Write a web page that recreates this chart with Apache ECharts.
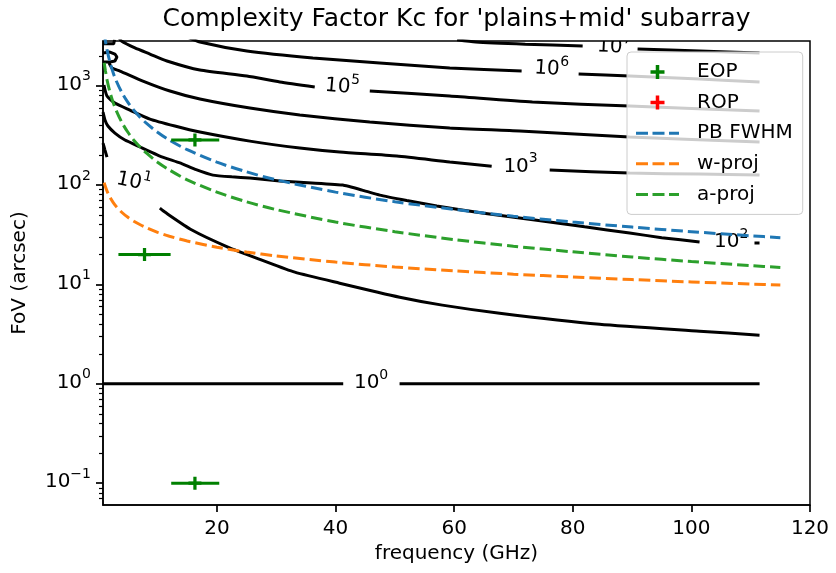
<!DOCTYPE html>
<html><head><meta charset="utf-8">
<script src="https://cdn.jsdelivr.net/npm/echarts@6/dist/echarts.min.js"></script>
<style>html,body{margin:0;padding:0;background:#fff}#c{width:836px;height:573px}</style>
</head><body><div id="c"></div>
<script>
// ---------- data ----------
const xTicks = [20, 40, 60, 80, 100, 120];
const yTicks = [0.1, 1, 10, 100, 1000];
const yMinorTicks = [0.07,0.08,0.09,0.2,0.3,0.4,0.5,0.6,0.7,0.8,0.9,2,3,4,5,6,7,8,9,20,30,40,50,60,70,80,90,200,300,400,500,600,700,800,900,2000];

const freq   = [1,1.2,1.5,2,2.5,3,4,5,6,7,8,10,12,15,20,25,30,40,50,60,70,80,90,100,110,115];
const pbFwhm = [3400,2830,2270,1700,1360,1130,850,680,567,486,425,340,283,227,170,136,113,85,68,57,48.6,42.5,37.8,34,30.9,29.6];
const wProj  = [106,96.8,86.5,75,67,61.2,53,47.4,43.3,40.1,37.5,33.5,30.6,27.4,23.7,21.2,19.4,16.8,15,13.7,12.7,11.9,11.2,10.6,10.1,9.9];
const aProj  = [1700,1420,1130,850,680,567,425,340,283,243,213,170,142,113,85,68,56.7,42.5,34,28.3,24.3,21.3,18.9,17,15.5,14.8];

const eopFreq = [16.3, 7.8, 16.3];
const eopFov  = [285, 20, 0.1];
const eopLo   = [12.3, 3.4, 12.3];
const eopHi   = [20.4, 12.2, 20.4];
const ropFreq = [];
const ropFov  = [];

// contour lines (Kc levels), each a list of segments of [freq, fov]
const k0 = [[[0.8,1],[41.3,1]], [[50.8,1],[111.5,1]]];
const k1 = [[[0.8,265],[1.13,225],[1.47,191]],
            [[10.39,58.6],[11.23,53.5],[15.79,35.3],[21.85,23.8],[27.58,17.6],[33.14,13.3],[40.7,10.3],[50.83,7.45],[58,6.2],[67.68,5.14],[84.53,3.98],[101.38,3.39],[111.49,3.09]]];
const k2 = [[[0.8,543],[1.13,452],[1.63,393],[2.81,334],[4.5,284],[7.03,242],[10.39,196],[13.77,167],[16.5,143],[19.33,126],[22.5,121],[25.56,118],[30.61,110],[36,105],[41.23,100],[44.5,89],[47.46,79.3],[52,70],[57.07,61.5],[65,52],[73.91,44.4],[82,38],[89.59,32.9],[95,29.6],[101.38,26.7]],
            [[110.64,26.1],[111.49,26.1]]];
const k3 = [[[0.96,1016],[1.47,788],[2.81,670],[5.34,569],[8.71,462],[12.92,393],[17.14,342],[25.56,277],[33.98,236],[40.72,215],[50.33,196],[59.26,171],[66.33,155]],
            [[76.11,142],[89.59,132],[101.38,129],[111.49,126]]];
const k4 = [[[1.82,1694],[2.31,1507],[3.66,1406],[7.53,1114],[12.08,885],[17.14,735],[25.56,596],[33.98,508],[45.78,431],[59.26,375],[71.05,350],[89.59,304],[111.49,271]]];
const k5 = [[[3.5,3050],[3.9,2818],[6.18,2399],[8.71,2084],[11.58,1774],[17.14,1439],[25.05,1253],[30.61,1089],[36.5,970]],
            [[45.78,885],[59.26,788],[73.2,685],[89.59,625],[111.49,556]]];
const k6 = [[[14.64,3162],[17.14,2754],[25.05,2236],[36.18,1901],[47.46,1694],[59.26,1507],[71.38,1406]],
            [[80.99,1312],[89.59,1253],[101.38,1167],[111.49,1089]]];
const k7 = [[[60.5,2900],[63.64,2754],[72,2620],[81.67,2512]],
            [[90.93,2344],[101.38,2236],[111.49,2133]]];
const kCorner1 = [[[0.8,2640],[2.6,2640],[2.75,2760],[2.75,2900]]];
const kCorner2 = [[[0.8,2133],[1.97,2183],[2.81,2084],[3.15,1945],[2.81,1774],[1.97,1734],[0.8,1734]]];

// inline contour labels
const labelX   = [46.0, 5.93, 106.7, 71.2, 41.1, 76.4, 87.0];
const labelY   = [1.02, 107, 26.6, 154, 970, 1466, 2455];
const labelExp = ['0', '1', '2', '3', '5', '6', '7'];
const labelRot = [0, -12, 0, 0, -5, -4, -3];

// ---------- chart ----------
const FONT = 'DejaVu Sans';
const rich = {
  b: { fontFamily: FONT, fontSize: 20, lineHeight: 25, color: '#000', verticalAlign: 'bottom' },
  s: { fontFamily: FONT, fontSize: 14, lineHeight: 14, color: '#000', verticalAlign: 'top' }
};
const PLUS = 'path://M0,4.5H4.5V0H7.5V4.5H12V7.5H7.5V12H4.5V7.5H0Z';
const DASH_ICON = 'path://M0,0H12V3H0Z M16.5,0H28.5V3H16.5Z M33,0H43V3H33Z';
function supText(v) {
  const e = Math.round(Math.log10(v));
  return '{b|10}{s|' + (e < 0 ? '\u2212' + (-e) : e) + '}';
}

const series = [];
function addContour(segs, smooth) {
  segs.forEach(seg => series.push({
    type: 'line', data: seg, symbol: 'none', showSymbol: false, silent: true,
    smooth: smooth, z: 2, clip: true,
    lineStyle: { color: '#000', width: 3 }
  }));
}
[k0, k1, k3, k4, k5, k6, k7].forEach(k => addContour(k, 0.2));
addContour(k2, 0.1);
[kCorner1, kCorner2].forEach(k => addContour(k, false));

series.push({
  type: 'custom', coordinateSystem: 'cartesian2d', clip: true, silent: true, z: 3,
  data: labelX.map((x, i) => [x, labelY[i], i]),
  renderItem: (params, api) => {
    const i = api.value(2);
    const p = api.coord([api.value(0), api.value(1)]);
    return {
      type: 'text', x: p[0], y: p[1], rotation: labelRot[i] * Math.PI / 180,
      style: { text: '{b|10}{s|' + labelExp[i] + '}', rich: rich, align: 'center', verticalAlign: 'middle',
               padding: [0, 0, 5, 0], fill: '#000', fontFamily: FONT, fontSize: 20 }
    };
  }
});

const dash = [11.5, 5];
series.push({ type: 'line', name: 'PB FWHM', data: freq.map((f, i) => [f, pbFwhm[i]]), symbol: 'none', showSymbol: false, smooth: 0.3, z: 4, clip: true,
  lineStyle: { color: '#1f77b4', width: 3, type: dash }, itemStyle: { color: '#1f77b4' } });
series.push({ type: 'line', name: 'w-proj', data: freq.map((f, i) => [f, wProj[i]]), symbol: 'none', showSymbol: false, smooth: 0.3, z: 4, clip: true,
  lineStyle: { color: '#ff7f0e', width: 3, type: dash }, itemStyle: { color: '#ff7f0e' } });
series.push({ type: 'line', name: 'a-proj', data: freq.map((f, i) => [f, aProj[i]]), symbol: 'none', showSymbol: false, smooth: 0.3, z: 4, clip: true,
  lineStyle: { color: '#2ca02c', width: 3, type: dash }, itemStyle: { color: '#2ca02c' } });

eopFreq.forEach((f, i) => series.push({
  type: 'line', name: 'EOP err', data: [[eopLo[i], eopFov[i]], [eopHi[i], eopFov[i]]], symbol: 'none', z: 5, silent: true,
  lineStyle: { color: '#008000', width: 3 }
}));
series.push({ type: 'scatter', name: 'EOP', data: eopFreq.map((f, i) => [f, eopFov[i]]), symbol: PLUS, symbolSize: 13, symbolKeepAspect: true, z: 6,
  itemStyle: { color: '#008000', opacity: 1 } });
series.push({ type: 'scatter', name: 'ROP', data: ropFreq.map((f, i) => [f, ropFov[i]]), symbol: PLUS, symbolSize: 13, symbolKeepAspect: true, z: 6,
  itemStyle: { color: '#ff0000', opacity: 1 } });

const chart = echarts.init(document.getElementById('c'), null, { renderer: 'canvas' });
chart.setOption({
  animation: false,
  backgroundColor: '#fff',
  textStyle: { fontFamily: FONT },
  title: {
    text: "Complexity Factor Kc for 'plains+mid' subarray",
    left: 451.5, top: 2, textAlign: 'center',
    textStyle: { fontFamily: FONT, fontSize: 25, fontWeight: 'normal', color: '#000' }
  },
  grid: { left: 103, right: 26, top: 41, bottom: 68, show: true, borderColor: '#000', borderWidth: 1.5, containLabel: false, outerBoundsMode: 'none' },
  legend: {
    orient: 'vertical', left: 627, top: 52,
    padding: [10, 10, 10, 9], itemGap: 10.6, itemWidth: 43, itemHeight: 14,
    backgroundColor: 'rgba(255,255,255,0.8)', borderColor: '#cccccc', borderWidth: 1, borderRadius: 4,
    textStyle: { fontFamily: FONT, fontSize: 20, lineHeight: 20, color: '#000', padding: [0, 0, 0, 13] },
    data: [
      { name: 'EOP' }, { name: 'ROP' },
      { name: 'PB FWHM', icon: DASH_ICON, itemStyle: { color: '#1f77b4' } },
      { name: 'w-proj', icon: DASH_ICON, itemStyle: { color: '#ff7f0e' } },
      { name: 'a-proj', icon: DASH_ICON, itemStyle: { color: '#2ca02c' } }
    ],
    selectedMode: false
  },
  xAxis: {
    type: 'value', min: 0.8, max: 120,
    name: 'frequency (GHz)', nameLocation: 'middle', nameGap: 39,
    nameTextStyle: { fontFamily: FONT, fontSize: 20, color: '#000' },
    axisLine: { show: true, lineStyle: { color: '#000', width: 1.5 } },
    axisTick: { show: true, customValues: xTicks, length: 7, lineStyle: { color: '#000', width: 1.7 } },
    axisLabel: { show: true, customValues: xTicks, margin: 14, fontFamily: FONT, fontSize: 20, color: '#000' },
    splitLine: { show: false }
  },
  yAxis: [{
    type: 'log', logBase: 10, min: 0.0604, max: 2818,
    name: 'FoV (arcsec)', nameLocation: 'middle', nameGap: 73,
    nameTextStyle: { fontFamily: FONT, fontSize: 20, color: '#000' },
    axisLine: { show: true, lineStyle: { color: '#000', width: 1.5 } },
    axisTick: { show: true, customValues: yTicks, length: 7, lineStyle: { color: '#000', width: 1.7 } },
    axisLabel: { show: true, customValues: yTicks, margin: 12, formatter: supText, rich: rich, padding: [0, 0, 7, 0] },
    splitLine: { show: false }
  }, {
    type: 'log', logBase: 10, min: 0.0604, max: 2818, position: 'left',
    axisLine: { show: false },
    axisTick: { show: true, customValues: yMinorTicks, length: 4, lineStyle: { color: '#000', width: 1.2 } },
    axisLabel: { show: false },
    splitLine: { show: false }
  }],
  series: series
});
</script>
</body></html>
